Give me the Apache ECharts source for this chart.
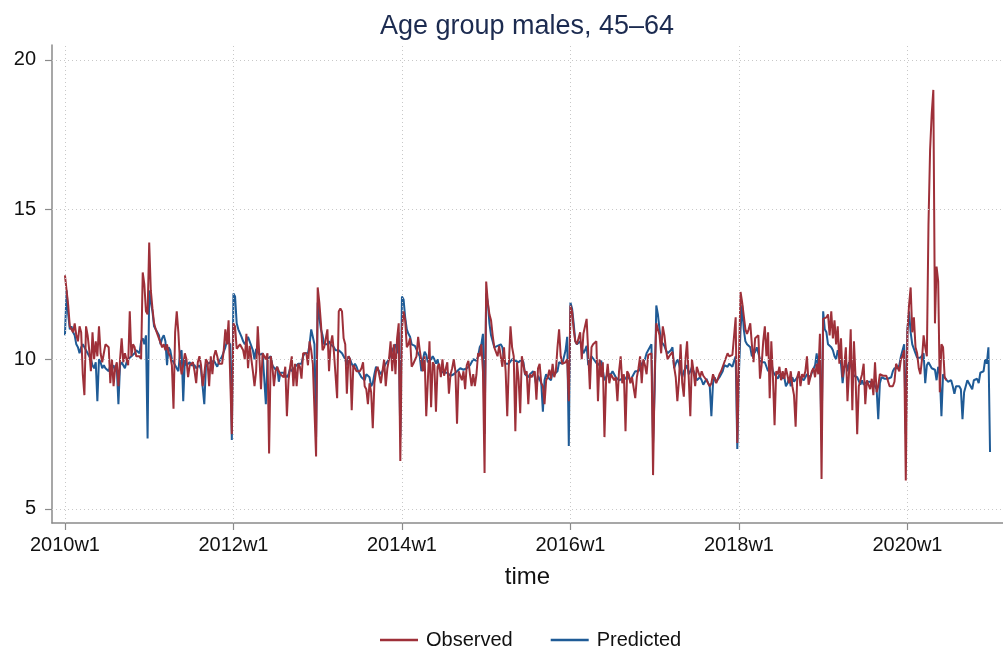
<!DOCTYPE html>
<html>
<head>
<meta charset="utf-8">
<script src="https://cdn.jsdelivr.net/npm/echarts@6/dist/echarts.min.js"></script>
<style>
  html, body { margin: 0; padding: 0; background: #fff; }
  #chart { width: 1003px; height: 650px; }
</style>
</head>
<body>
<div id="chart"></div>
<script>
// Weekly series, 52 weeks per year; week index 0 = 2010w1.
const obs2010 = [12.8,12.8,11.8,11.1,11.0,10.9,11.2,10.8,10.6,11.1,10.9,9.5,8.8,11.1,10.8,10.3,9.6,10.9,10.0,10.6,10.1,11.1,10.2,9.9,10.2,10.5,10.5,10.4,9.2,10.0,9.1,9.7,9.9,9.1,10.0,10.7,9.9,10.2,10.0,9.8,11.6,10.1,10.5,10.4,10.1,10.1,10.1,10.0,12.9,12.5,11.6,11.5];
const obs2011 = [13.9,12.3,11.7,11.2,11.0,11.0,10.7,10.7,10.4,10.5,10.3,10.5,10.2,10.1,9.8,8.35,10.9,11.6,10.9,9.9,9.5,9.8,10.2,10.0,9.4,9.8,9.8,9.9,9.6,9.2,9.9,10.1,9.8,9.1,9.5,10.0,9.9,9.1,10.1,9.5,10.1,10.3,10.1,9.85,9.85,9.85,10.3,11.0,10.5,11.3,11.3,7.5];
const obs2012 = [11.2,11.1,10.35,10.4,10.5,10.4,10.3,10.0,10.85,9.7,10.45,10.4,9.6,9.1,9.6,11.1,10.1,9.0,10.2,10.1,10.0,10.2,6.85,10.1,9.8,9.1,9.6,9.75,9.6,9.5,9.55,9.4,9.75,8.1,9.3,9.75,10.1,9.1,9.85,9.1,9.85,9.75,9.35,10.2,10.2,10.2,9.8,10.6,10.3,9.85,9.8,6.75];
const obs2013 = [12.4,11.9,11.2,10.3,10.4,10.4,11.0,9.6,10.5,10.8,10.25,10.3,8.7,11.6,11.7,11.6,10.7,10.5,8.85,10.1,10.0,8.3,9.8,9.85,9.6,9.6,9.6,9.7,9.9,9.1,9.0,8.5,9.2,8.9,7.7,9.2,9.6,9.75,9.75,9.2,9.6,10.0,9.1,9.7,10.0,10.6,9.6,10.5,9.5,10.7,11.2,6.6];
const obs2014 = [11.0,11.6,11.3,10.4,10.5,10.7,9.75,9.85,9.85,10.1,10.75,10.3,9.95,9.6,10.1,8.1,9.3,10.6,8.4,9.9,9.8,8.25,9.75,9.85,9.4,10.0,9.45,9.5,9.9,8.85,9.5,9.7,10.0,9.6,7.85,9.6,9.6,9.3,9.6,9.0,9.8,9.95,9.5,9.1,9.5,9.1,9.5,10.2,10.1,10.5,9.6,6.2];
const obs2015 = [12.6,11.9,11.5,11.3,10.8,10.4,10.35,10.1,10.45,10.4,9.75,10.4,9.6,8.1,9.85,11.1,10.4,10.1,7.6,9.9,9.35,8.2,10.1,9.8,9.5,9.6,8.5,9.5,9.4,9.4,9.6,8.65,9.7,9.85,9.2,9.1,8.5,9.3,9.4,9.65,9.35,9.85,9.4,9.6,10.4,11.0,10.1,9.85,9.85,9.9,10.0,8.6];
const obs2016 = [11.8,11.6,11.0,10.6,10.5,10.5,10.9,10.0,10.85,10.85,11.35,10.2,9.0,10.4,10.5,10.45,10.6,8.6,10.0,9.4,9.9,7.4,9.3,9.85,9.2,9.5,9.5,9.3,9.4,8.6,9.6,10.1,9.2,9.5,7.6,9.6,9.5,9.2,9.4,9.35,8.7,9.4,9.7,10.1,9.2,10.0,9.8,9.5,10.15,10.15,10.2,6.13];
const obs2017 = [9.5,11.2,11.2,10.8,10.2,11.1,10.8,10.3,10.0,10.1,10.1,10.25,9.75,9.4,8.6,9.3,10.5,9.2,8.75,10.0,10.6,9.4,8.1,10.0,9.6,9.1,9.75,9.8,9.4,9.6,9.45,9.4,9.3,9.2,9.1,9.2,9.5,9.35,9.2,9.35,9.5,9.6,9.65,9.9,9.9,10.2,10.1,10.15,10.15,10.2,11.4,7.2];
const obs2018 = [10.0,12.25,11.9,11.9,11.0,10.85,11.0,11.2,10.5,9.9,10.7,10.65,10.8,9.35,9.8,10.6,11.1,10.1,10.9,8.7,10.6,9.4,7.8,9.6,9.5,9.75,9.3,9.6,9.35,9.7,9.75,9.2,9.6,9.1,8.8,7.75,9.4,9.6,9.1,9.5,9.4,9.6,10.1,9.15,9.2,9.6,9.7,9.4,9.85,9.5,10.85,6.0];
const obs2019 = [11.35,11.3,11.4,11.5,10.8,11.6,10.7,11.3,10.5,11.1,9.85,10.7,9.4,9.75,10.4,8.6,9.6,11.0,8.3,10.6,9.4,7.5,9.1,9.1,9.5,9.85,8.5,9.3,9.3,9.0,9.35,8.8,9.9,8.9,9.1,9.5,9.5,9.45,9.5,9.45,9.4,9.1,9.15,9.1,9.25,9.85,9.8,9.6,10.0,10.1,10.3,5.95];
const obs2020 = [10.9,11.8,12.4,10.9,11.4,10.4,10.2,9.7,9.5,10.0,10.8,10.4,10.1,14.5,17.0,18.2,19.0,11.2,13.1,12.6,8.9,10.5,10.4,9.4,9.3];

const pred2010 = [10.8,12.3,11.5,11.0,11.1,10.9,10.8,10.5,10.4,10.2,10.4,10.5,10.4,10.3,10.2,10.1,10.0,9.8,9.7,9.9,8.6,10.0,9.9,9.7,9.8,9.7,9.7,9.6,9.8,9.7,9.8,9.6,9.7,8.5,9.8,9.9,9.8,9.7,9.9,10.0,10.0,10.1,10.1,10.2,10.3,10.3,10.2,10.6,10.7,10.5,10.8,7.35];
const pred2011 = [12.3,11.9,11.6,11.1,11.0,10.9,10.8,10.5,10.7,10.8,10.6,9.8,10.4,10.3,10.0,9.9,9.8,9.7,9.6,10.2,10.3,8.6,10.0,9.8,9.85,9.9,9.8,9.75,9.8,9.7,9.65,9.8,9.65,9.6,8.5,9.75,9.85,9.8,9.9,9.95,9.95,9.9,9.75,9.9,10.0,10.1,10.1,10.4,10.6,10.6,10.5,7.3];
const pred2012 = [12.2,12.1,11.2,11.0,11.0,10.75,10.6,10.5,10.6,10.75,10.6,10.45,10.3,10.0,10.35,10.3,10.15,10.2,10.2,10.25,8.5,10.0,10.0,10.1,9.8,9.8,9.65,9.75,9.25,9.55,9.5,9.55,9.5,9.4,9.5,9.7,9.6,9.6,9.75,9.7,9.85,9.85,9.85,10.1,10.2,10.2,10.2,10.5,11.0,11.0,10.5,7.4];
const pred2013 = [11.9,11.4,11.0,10.8,10.5,10.5,10.5,10.6,10.5,10.45,10.4,10.3,10.3,10.3,10.3,10.2,10.1,10.0,9.8,10.1,10.0,9.85,9.75,9.85,9.75,9.6,9.5,9.4,9.4,9.3,9.5,9.5,9.4,9.1,9.2,9.5,9.75,9.8,9.6,9.5,9.6,9.75,9.85,9.8,10.0,10.15,10.3,10.4,10.5,10.2,10.9,7.4];
const pred2014 = [12.1,12.0,11.4,11.0,10.85,10.75,10.5,10.45,10.45,10.5,10.2,10.1,9.6,10.0,10.25,10.15,9.9,9.85,10.0,10.1,10.0,9.85,10.0,9.7,9.6,9.55,9.55,9.5,9.55,9.5,9.45,9.4,9.5,9.5,9.6,9.65,9.7,9.65,9.65,9.65,9.7,9.75,9.8,9.85,10.0,10.0,9.95,10.1,10.4,10.5,10.85,7.5];
const pred2015 = [12.2,11.9,11.2,10.8,10.6,10.4,10.4,10.45,10.45,10.5,10.4,10.0,9.85,9.85,9.85,9.9,10.0,10.0,9.95,9.95,9.9,9.85,10.0,9.9,9.5,9.45,9.4,9.5,9.55,9.6,9.4,9.1,9.45,9.45,9.2,8.25,9.3,9.5,9.4,9.4,9.3,9.6,9.5,9.5,9.6,9.9,9.9,9.85,9.9,10.3,10.75,7.1];
const pred2016 = [11.9,11.7,11.2,10.6,10.5,10.5,10.6,10.4,10.2,10.3,10.45,9.8,9.85,10.1,10.1,9.95,9.9,9.8,9.8,9.95,9.9,9.3,9.4,9.5,9.55,9.5,9.6,9.55,9.4,9.4,9.3,9.3,9.35,9.4,9.35,9.45,9.4,9.3,9.4,9.35,9.6,9.6,9.6,9.7,9.85,9.9,10.0,10.2,10.3,10.3,10.5,7.2];
const pred2017 = [9.0,11.8,11.5,11.0,10.6,10.55,10.45,10.3,10.2,10.2,10.3,10.4,9.7,9.75,10.0,9.85,9.6,9.4,9.6,9.7,9.8,9.5,9.6,9.75,9.6,9.5,9.3,9.35,9.4,9.3,9.15,9.25,9.35,9.2,9.1,8.1,9.2,9.4,9.25,9.3,9.4,9.5,9.6,9.8,9.85,9.75,9.85,9.8,9.75,9.95,10.1,7.0];
const pred2018 = [9.5,11.0,11.8,11.0,10.6,10.5,10.5,10.4,10.1,10.1,10.25,10.4,10.4,10.0,9.9,9.85,9.9,9.85,9.6,9.6,9.9,9.6,9.5,9.5,9.35,9.5,9.35,9.3,9.4,9.1,9.2,9.4,9.1,9.4,9.25,9.2,9.4,9.35,9.4,9.35,9.3,9.4,9.5,9.5,9.4,9.55,9.6,9.8,10.2,9.6,10.1,7.3];
const pred2019 = [11.6,11.0,10.9,10.5,10.45,10.4,10.3,10.1,10.0,10.3,10.1,9.85,9.2,9.7,9.9,9.6,9.9,9.8,9.6,9.45,9.45,9.4,9.4,9.15,9.3,9.15,9.2,9.25,9.25,9.25,9.15,9.25,9.1,9.0,8.0,9.2,9.4,9.4,9.35,9.3,9.35,9.4,9.4,9.6,9.7,9.75,9.7,9.8,10.1,10.1,10.5,7.5];
const pred2020 = [11.0,11.6,10.9,10.5,10.35,10.2,10.05,10.0,10.05,10.0,10.2,9.2,9.8,9.9,9.9,9.7,9.65,9.65,9.3,9.75,9.5,8.1,9.5,9.4,9.45,9.25,9.25,9.3,9.1,8.85,9.1,9.05,9.1,9.0,8.0,8.9,8.95,9.3,9.2,9.15,9.0,9.3,9.3,9.35,9.2,9.55,9.6,9.6,10.0,9.85,10.4,6.9];

// Axis ticks
const weekTicks = [0, 104, 208, 312, 416, 520];
const weekTickLabels = ['2010w1', '2012w1', '2014w1', '2016w1', '2018w1', '2020w1'];
const valueTicks = [5, 10, 15, 20];

const observed = [].concat(obs2010, obs2011, obs2012, obs2013, obs2014, obs2015,
  obs2016, obs2017, obs2018, obs2019, obs2020);
const predicted = [].concat(pred2010, pred2011, pred2012, pred2013, pred2014, pred2015,
  pred2016, pred2017, pred2018, pred2019, pred2020);

const RED = '#9e3039';
const BLUE = '#1f5b96';
const FONT = 'Liberation Sans, Arial, sans-serif';

const chart = echarts.init(document.getElementById('chart'), null, { renderer: 'canvas' });

const gridLine = { color: '#c8c8c8', width: 1, type: [1, 3] };

chart.setOption({
  animation: false,
  backgroundColor: '#ffffff',
  textStyle: { fontFamily: FONT },
  title: {
    text: 'Age group males, 45\u201364',
    left: 522, textAlign: 'center', top: 8,
    textStyle: { fontFamily: FONT, fontSize: 27, fontWeight: 'normal', color: '#1c2b50' }
  },
  legend: {
    data: ['Observed', 'Predicted'],
    left: 375, top: 625,
    icon: 'rect', itemWidth: 38, itemHeight: 2.5, itemGap: 38,
    textStyle: { fontFamily: FONT, fontSize: 20, color: '#111', padding: [0, 0, 0, 3] }
  },
  grid: { left: 52, right: 0, top: 45, bottom: 127, containLabel: false },
  xAxis: {
    type: 'value', min: -8, max: 579,
    name: 'time', nameLocation: 'middle', nameGap: 42,
    nameTextStyle: { fontFamily: FONT, fontSize: 24, color: '#111' },
    axisLine: { show: true, onZero: false, lineStyle: { color: '#8a8a8a', width: 1.5 } },
    axisTick: { show: true, length: 7, customValues: weekTicks, lineStyle: { color: '#8a8a8a', width: 1.2 } },
    axisLabel: {
      customValues: weekTicks, margin: 12,
      fontFamily: FONT, fontSize: 20, color: '#111',
      formatter: v => weekTickLabels[weekTicks.indexOf(v)] || ''
    },
    splitLine: { show: false }
  },
  yAxis: {
    type: 'value', min: 4.53, max: 20.5,
    axisLine: { show: true, onZero: false, lineStyle: { color: '#8a8a8a', width: 1.5 } },
    axisTick: { show: true, length: 7, customValues: valueTicks, lineStyle: { color: '#8a8a8a', width: 1.2 } },
    axisLabel: {
      customValues: valueTicks, margin: 16,
      fontFamily: FONT, fontSize: 20, color: '#111',
      formatter: v => String(v)
    },
    splitLine: { show: false }
  },
  series: [
    {
      // dotted reference grid
      type: 'line', data: [], z: 1, silent: true,
      markLine: {
        silent: true, symbol: 'none', animation: false,
        label: { show: false },
        lineStyle: gridLine,
        data: weekTicks.map(w => ({ xAxis: w })).concat(valueTicks.map(v => ({ yAxis: v })))
      }
    },
    {
      name: 'Predicted', type: 'line', z: 3,
      data: predicted.map((v, i) => [i, v]),
      showSymbol: false, symbol: 'none',
      lineStyle: { color: BLUE, width: 2 },
      itemStyle: { color: BLUE }
    },
    {
      name: 'Observed', type: 'line', z: 4,
      data: observed.map((v, i) => [i, v]),
      showSymbol: false, symbol: 'none',
      lineStyle: { color: RED, width: 2 },
      itemStyle: { color: RED }
    }
  ]
});
</script>
</body>
</html>
